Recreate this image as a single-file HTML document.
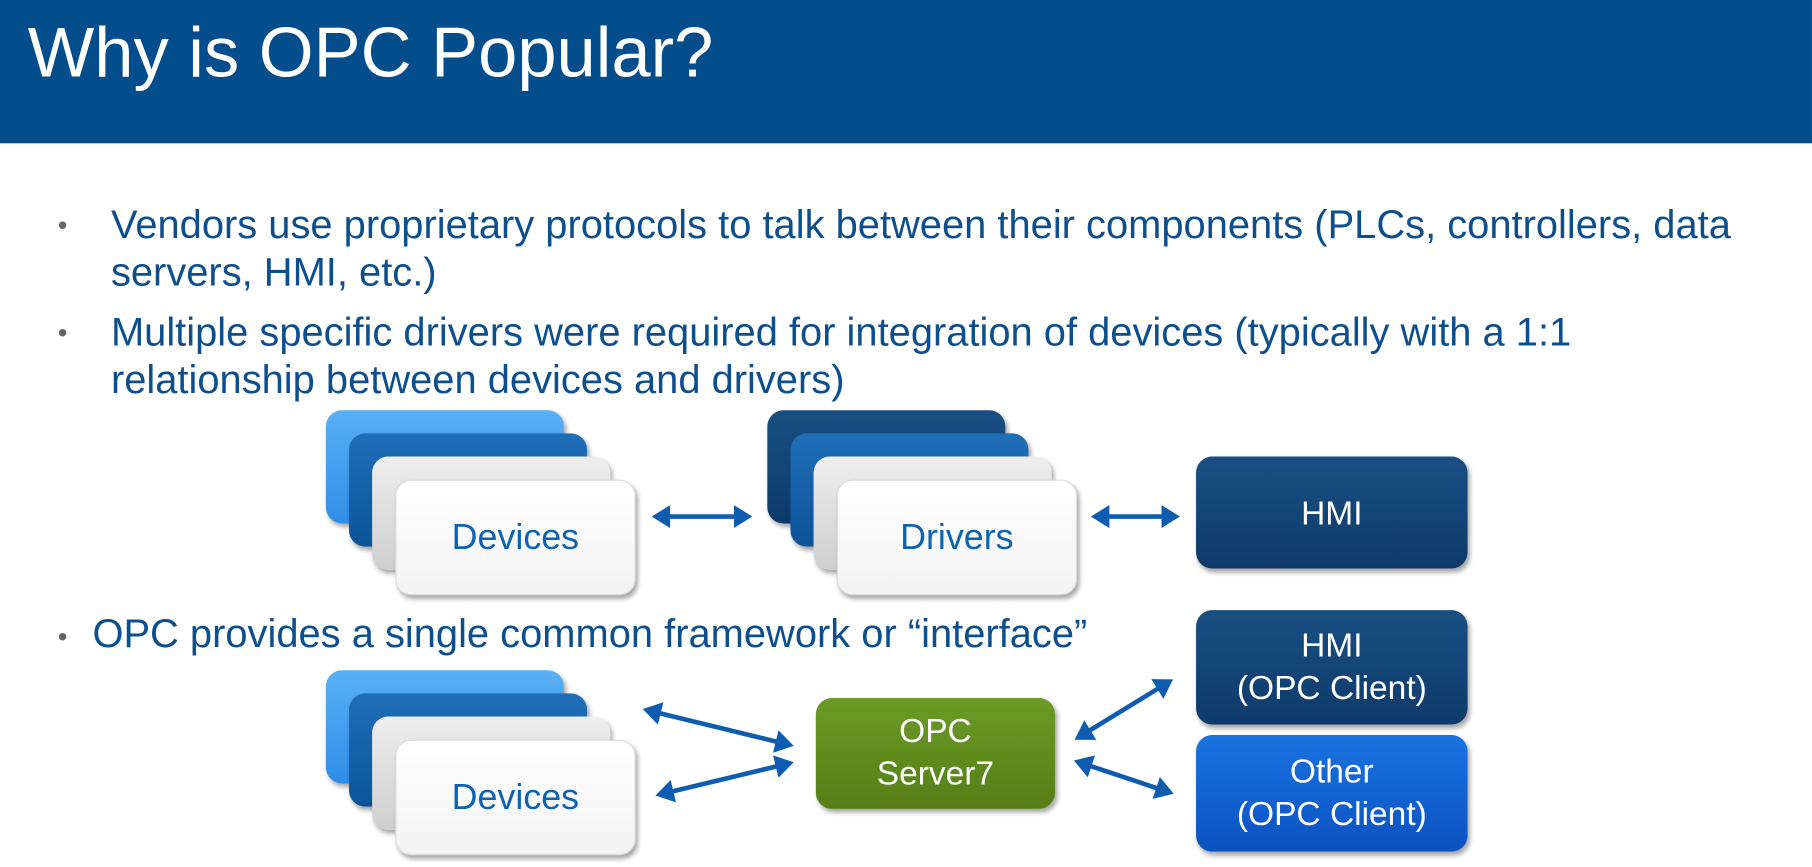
<!DOCTYPE html>
<html><head><meta charset="utf-8"><style>
html,body{margin:0;padding:0;background:#fff;width:1812px;height:867px;overflow:hidden}
#w{position:absolute;left:0;top:0;width:1568px;height:750px;transform:scale(1.1556);transform-origin:0 0;font-family:"Liberation Sans",Arial,sans-serif}
.hdr{position:absolute;left:0;top:0;width:1568px;height:124px;background:#034d8c}
.title{position:absolute;left:24px;top:10px;color:#fff;font-size:61px}
.t{position:absolute;color:#0d4f8d;font-size:34.5px;line-height:41px;white-space:nowrap}
.b{position:absolute;color:#666;font-size:24px}
.bx{position:absolute;width:206px;height:98px;border-radius:14px;box-shadow:2px 3px 4px rgba(0,0,0,.35)}
.lb{background:linear-gradient(#5ab0f5,#2f8ee8)}
.db{background:linear-gradient(#1f6fb8,#0c5398)}
.nv{background:linear-gradient(#1a4f82,#0d3a6a)}
.gr{background:linear-gradient(#eee,#cfcfcf)}
.wh{background:linear-gradient(#fff,#f3f3f3);border:1px solid #ddd;color:#0d63b0;font-size:31px;display:flex;align-items:center;justify-content:center}
.c{position:absolute;border-radius:14px;color:#fff;font-size:29px;display:flex;align-items:center;justify-content:center;text-align:center;line-height:37px;box-shadow:2px 3px 4px rgba(0,0,0,.35)}
</style></head><body><div id="w">
<div class="hdr"><div class="title">Why is OPC Popular?</div></div>
<div class="b" style="left:50px;top:182px">•</div>
<div class="t" style="left:96px;top:175px">Vendors use proprietary protocols to talk between their components (PLCs, controllers, data<br>servers, HMI, etc.)</div>
<div class="b" style="left:50px;top:275px">•</div>
<div class="t" style="left:96px;top:268px">Multiple specific drivers were required for integration of devices (typically with a 1:1<br>relationship between devices and drivers)</div>
<div class="b" style="left:50px;top:538px">•</div>
<div class="t" style="left:80px;top:529px">OPC provides a single common framework or “interface”</div>

<div class="bx lb" style="left:282px;top:355px"></div>
<div class="bx db" style="left:302px;top:375px"></div>
<div class="bx gr" style="left:322px;top:395px"></div>
<div class="bx wh" style="left:342px;top:415px">Devices</div>

<div class="bx nv" style="left:664px;top:355px"></div>
<div class="bx db" style="left:684px;top:375px"></div>
<div class="bx gr" style="left:704px;top:395px"></div>
<div class="bx wh" style="left:724px;top:415px">Drivers</div>

<div class="c nv" style="left:1035px;top:395px;width:235px;height:97px;align-items:flex-start;padding-top:32px;box-sizing:border-box">HMI</div>

<div class="bx lb" style="left:282px;top:580px"></div>
<div class="bx db" style="left:302px;top:600px"></div>
<div class="bx gr" style="left:322px;top:620px"></div>
<div class="bx wh" style="left:342px;top:640px">Devices</div>

<div class="c" style="left:706px;top:604px;width:207px;height:96px;background:linear-gradient(#6c9a26,#557f16)">OPC<br>Server7</div>
<div class="c nv" style="left:1035px;top:528px;width:235px;height:99px">HMI<br>(OPC Client)</div>
<div class="c" style="left:1035px;top:636px;width:235px;height:101px;background:linear-gradient(#1a73e0,#0a52c0)">Other<br>(OPC Client)</div>

<svg style="position:absolute;left:0;top:0" width="1568" height="750">
<defs><marker id="a" markerWidth="4" markerHeight="5" refX="2.5" refY="2.5" orient="auto-start-reverse" markerUnits="strokeWidth"><path d="M0,0 L4,2.5 L0,5 z" fill="#0d5cb0"/></marker></defs>
<g stroke="#0d5cb0" stroke-width="4" fill="none">
<line x1="570" y1="447" x2="645" y2="447" marker-start="url(#a)" marker-end="url(#a)"/>
<line x1="950" y1="447" x2="1015" y2="447" marker-start="url(#a)" marker-end="url(#a)"/>
<line x1="562" y1="615" x2="681" y2="644" marker-start="url(#a)" marker-end="url(#a)"/>
<line x1="573" y1="687" x2="681" y2="661" marker-start="url(#a)" marker-end="url(#a)"/>
<line x1="935" y1="637" x2="1010" y2="591" marker-start="url(#a)" marker-end="url(#a)"/>
<line x1="935" y1="660" x2="1010" y2="685" marker-start="url(#a)" marker-end="url(#a)"/>
</g></svg>
</div></body></html>
